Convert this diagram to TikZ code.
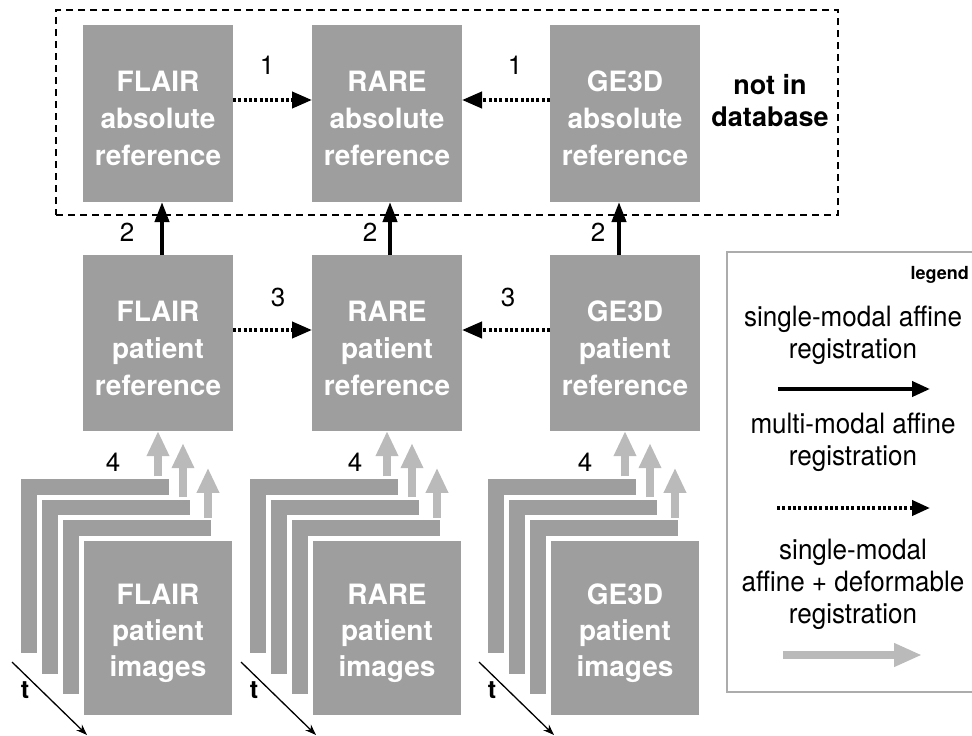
\documentclass[tikz,border=0pt]{standalone}
\usepackage{fontspec}
\setmainfont{TeX Gyre Heros}
\newfontfamily\legfont[FakeStretch=0.93]{TeX Gyre Heros}
\usetikzlibrary{arrows.meta,calc}
\definecolor{boxgray}{RGB}{158,158,158}
\definecolor{arrgray}{RGB}{186,186,186}
\definecolor{leggray}{RGB}{172,172,172}
\newcommand{\topstrut}{\rule{0pt}{31pt}}
\begin{document}
\begin{tikzpicture}[x=1pt,y=-1pt,
  gbox/.style={fill=boxgray, inner sep=0pt, outer sep=0pt, minimum width=150pt,
    minimum height=177pt, text=white, align=center,
    font=\fontsize{28}{37}\selectfont\bfseries},
  imglayer/.style={fill=boxgray, draw=white, line width=5pt, inner sep=0pt, outer sep=0pt,
    minimum width=153pt, minimum height=179pt, text=white, align=center,
    font=\fontsize{28}{36}\selectfont\bfseries},
  numlabel/.style={font=\fontsize{26}{30}\selectfont, inner sep=0pt},
  solidarr/.style={line width=4pt, -{Triangle[width=14pt,length=20pt]}},
  dotarr/.style={line width=4pt, dash pattern=on 3pt off 2.3pt, -{Triangle[width=16pt,length=20pt]}},
  grayarr/.style={line width=8pt, draw=arrgray, -{Triangle[width=21pt,length=25pt]}},
  tarr/.style={line width=1.3pt, -{Stealth[length=11pt,width=8pt]}},
  legtext/.style={font=\legfont\fontsize{28}{32}\selectfont, align=center, inner sep=0pt},
]
\useasboundingbox (0,0) rectangle (972,736);

% dashed region
\node[draw, dash pattern=on 7pt off 5pt, line width=1.4pt, anchor=north west,
  minimum width=782pt, minimum height=205pt, inner sep=0pt, outer sep=0pt] (db) at (56,10) {};
\node[font=\fontsize{27}{32}\selectfont\bfseries, align=center, inner sep=0pt] (nid) at (770,101) {not in\\database};

\foreach \s/\cx/\mod/\ax/\tx/\fx in {F/158/FLAIR/162/127/113, R/387/RARE/390/370/355, G/625/GE3D/619/598/585} {
  \node[gbox] (\s abs) at (\cx,113.5) {\topstrut\mod\\absolute\\reference};
  \node[gbox, minimum height=176pt] (\s pat) at (\cx,343) {\topstrut\mod\\patient\\reference};
  % stack of images
  \foreach \k in {0,1,2} {
    \node[imglayer] (\s L\k) at ({\cx-21*(3-\k)},{628-20.7*(3-\k)}) {};
  }
  \node[imglayer] (\s L3) at (\cx,628) {\rule{0pt}{32pt}\mod\\patient\\images};
  % arrows 2
  \coordinate (\s ax) at (\ax,0);
  \draw[solidarr] (\s pat.north -| \s ax) -- (\s abs.south -| \s ax);
  \node[numlabel] (\s two) at (\tx,232) {2};
  % gray arrows 4
  \path (\s L0.north) ++(63,0) coordinate (\s g0);
  \path (\s L1.north) ++(67,0) coordinate (\s g1);
  \path (\s L2.north) ++(71,0) coordinate (\s g2);
  \coordinate (\s g1e) at ($(\s g1)+(0,-54)$);
  \coordinate (\s g2e) at ($(\s g2)+(0,-50)$);
  \draw[grayarr] (\s g0) -- (\s g0 |- \s pat.south);
  \draw[grayarr] (\s g1) -- (\s g1e);
  \draw[grayarr] (\s g2) -- (\s g2e);
  \node[numlabel] (\s four) at (\fx,462) {4};
  % time arrow
  \coordinate (\s ts) at ({\cx-146},662);
  \coordinate (\s te) at ({\cx-71},735);
  \draw[tarr] (\s ts) -- (\s te);
  \node[font=\fontsize{25}{30}\selectfont\bfseries, inner sep=0pt] (\s t) at ({\cx-133},690) {t};
}

% dotted arrows 1 and 3
\draw[dotarr] ([yshift=13.5pt]Fabs.east) -- ([yshift=13.5pt]Rabs.west);
\draw[dotarr] ([yshift=13.5pt]Gabs.west) -- ([yshift=13.5pt]Rabs.east);
\node[numlabel] (one1) at (267,65) {1};
\node[numlabel] (one2) at (515,65) {1};
\draw[dotarr] ([yshift=13pt]Fpat.east) -- ([yshift=13pt]Rpat.west);
\draw[dotarr] ([yshift=13pt]Gpat.west) -- ([yshift=13pt]Rpat.east);
\node[numlabel] (three1) at (278,297) {3};
\node[numlabel] (three2) at (508,297) {3};

% legend
\node[draw=leggray, line width=1.5pt, anchor=north west, minimum width=250pt,
  minimum height=440pt, inner sep=0pt, outer sep=0pt] (leg) at (727,252) {};
\node[font=\fontsize{18}{20}\selectfont\bfseries, anchor=east, inner sep=0pt] (legt) at (969,275) {legend};
\node[legtext] (lt1) at (853,335) {single-modal affine\\registration};
\coordinate (la1) at (778,389); \coordinate (lb1) at (930,389);
\draw[line width=4pt, -{Triangle[width=15pt,length=18pt]}] (la1) -- (lb1);
\node[legtext] (lt2) at (853,442) {multi-modal affine\\registration};
\coordinate (la2) at (777,508); \coordinate (lb2) at (930,508);
\draw[line width=4pt, dash pattern=on 3pt off 2.3pt, -{Triangle[width=15pt,length=18pt]}] (la2) -- (lb2);
\node[legtext] (lt3) at (853,584) {single-modal\\affine + deformable\\registration};
\coordinate (la3) at (783,655); \coordinate (lb3) at (922,655);
\draw[line width=8pt, draw=arrgray, -{Triangle[width=22pt,length=28pt]}] (la3) -- (lb3);
\end{tikzpicture}
\end{document}
